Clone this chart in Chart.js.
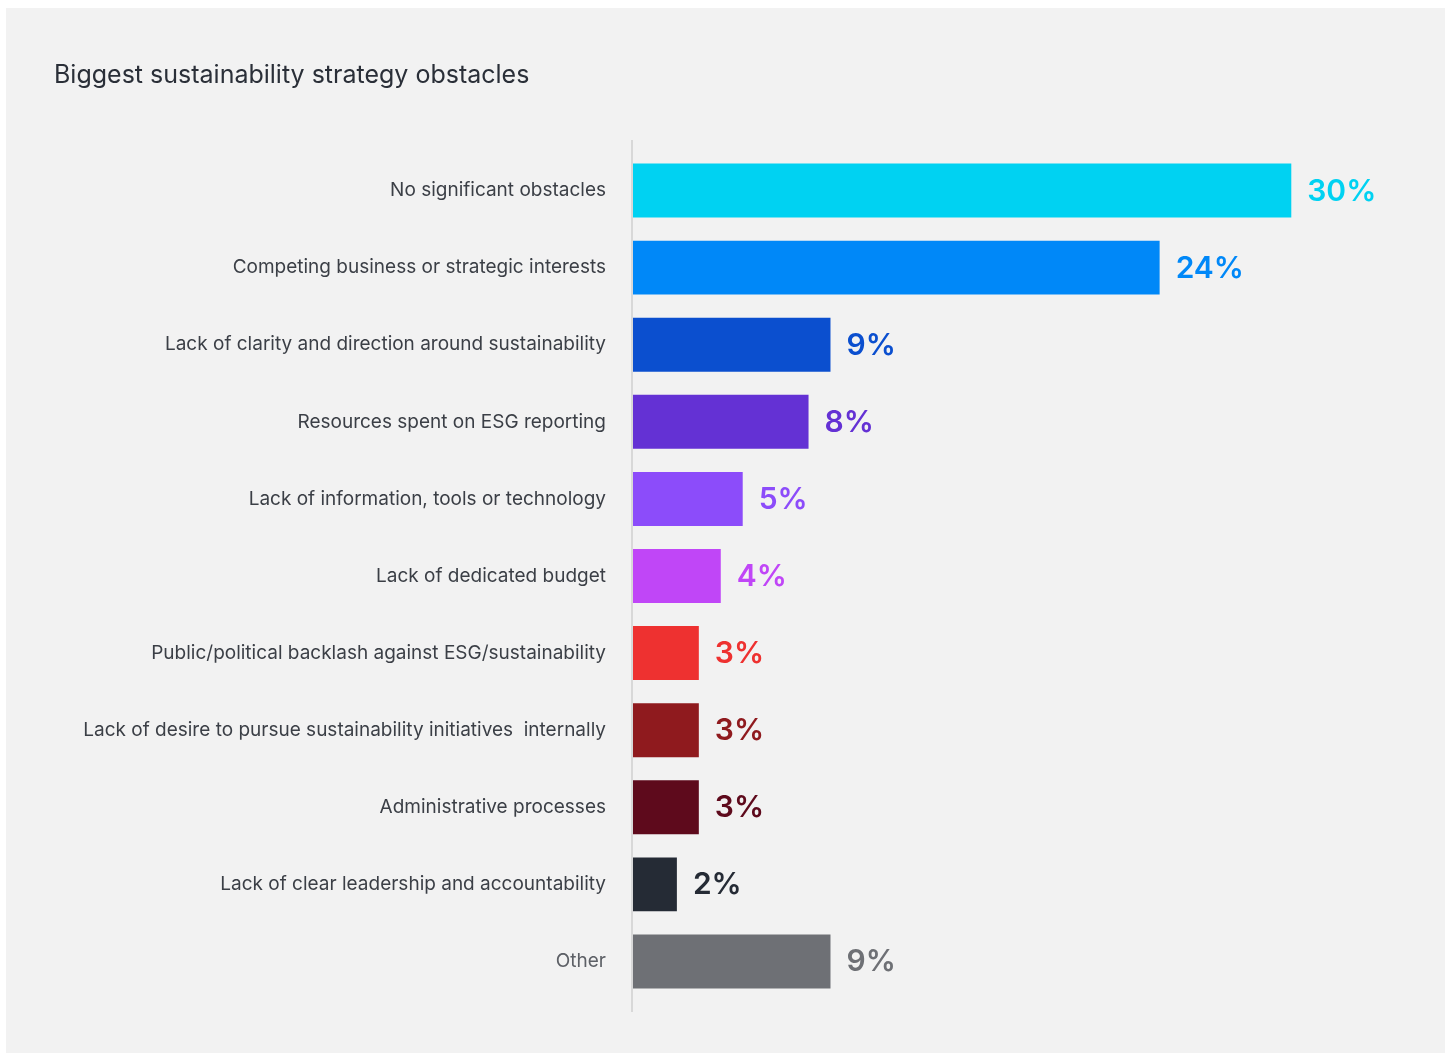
<!DOCTYPE html>
<html>
<head>
<meta charset="utf-8">
<title>Biggest sustainability strategy obstacles</title>
<script src="https://cdn.jsdelivr.net/npm/chart.js@4.4.1/dist/chart.umd.min.js"></script>
<style>
  html, body { margin: 0; padding: 0; background: #ffffff; }
  #panel { position: absolute; left: 6px; top: 8px; width: 1439px; height: 1045px; background: #f2f2f2; }
  #wrap { position: absolute; left: 0; top: 0; width: 1451px; height: 1055px; }
</style>
</head>
<body>
<div id="panel"></div>
<div id="wrap"><canvas id="canvas_obstacles"></canvas></div>
<script>
var obstacleLabels = [
  'No significant obstacles',
  'Competing business or strategic interests',
  'Lack of clarity and direction around sustainability',
  'Resources spent on ESG reporting',
  'Lack of information, tools or technology',
  'Lack of dedicated budget',
  'Public/political backlash against ESG/sustainability',
  'Lack of desire to pursue sustainability initiatives  internally',
  'Administrative processes',
  'Lack of clear leadership and accountability',
  'Other'
];
var obstacleShare = [30, 24, 9, 8, 5, 4, 3, 3, 3, 2, 9];
var barColors = [
  '#00d2f2', '#0088f8', '#0b4fcf', '#6431d4', '#8c4cfa', '#c046f7',
  '#ee3130', '#8f1a1e', '#5e0a1c', '#252b35', '#6e7075'
];

var FONT = 'Inter, "Noto Sans", sans-serif';

// vertical rule at the start of the bars, a bit taller than the plot area
var axisRule = {
  id: 'axisRule',
  beforeDatasetsDraw: function(chart) {
    var a = chart.chartArea, ctx = chart.ctx;
    ctx.save();
    ctx.strokeStyle = '#d8d8d8';
    ctx.lineWidth = 2;
    ctx.beginPath();
    ctx.moveTo(a.left - 1, a.top - 12);
    ctx.lineTo(a.left - 1, a.bottom + 12);
    ctx.stroke();
    ctx.restore();
  }
};

// percentage written after each bar in the bar's colour
var valueLabels = {
  id: 'valueLabels',
  afterDatasetsDraw: function(chart) {
    var ctx = chart.ctx;
    var meta = chart.getDatasetMeta(0);
    ctx.save();
    ctx.font = '600 30px ' + FONT;
    ctx.textBaseline = 'middle';
    ctx.textAlign = 'left';
    meta.data.forEach(function(bar, i) {
      ctx.fillStyle = barColors[i];
      ctx.fillText(obstacleShare[i] + '%', bar.x + 16, bar.y + 1);
    });
    ctx.restore();
  }
};

var config = {
  type: 'bar',
  data: {
    labels: obstacleLabels,
    datasets: [{
      data: obstacleShare,
      backgroundColor: barColors,
      barPercentage: 0.7,
      categoryPercentage: 1.0
    }]
  },
  options: {
    indexAxis: 'y',
    responsive: true,
    maintainAspectRatio: false,
    animation: false,
    layout: { padding: { left: 54, right: 50, top: 0, bottom: 55 } },
    plugins: {
      legend: { display: false },
      tooltip: { enabled: false },
      title: {
        display: true,
        text: 'Biggest sustainability strategy obstacles',
        align: 'start',
        color: '#2a2f38',
        font: { family: FONT, size: 25, weight: '400' },
        padding: { top: 60, bottom: 62 }
      }
    },
    scales: {
      x: { display: false, min: 0, max: 35 },
      y: {
        border: { display: false },
        grid: { display: false, drawTicks: false },
        ticks: {
          color: function(c) { return c.index === 10 ? '#5d6066' : '#3b3f46'; },
          font: { family: FONT, size: 19 },
          padding: 27
        },
        afterFit: function(scale) { scale.width = 579; }
      }
    }
  },
  plugins: [axisRule, valueLabels]
};

var ctx = document.getElementById('canvas_obstacles').getContext('2d');
new Chart(ctx, config);
</script>
</body>
</html>
